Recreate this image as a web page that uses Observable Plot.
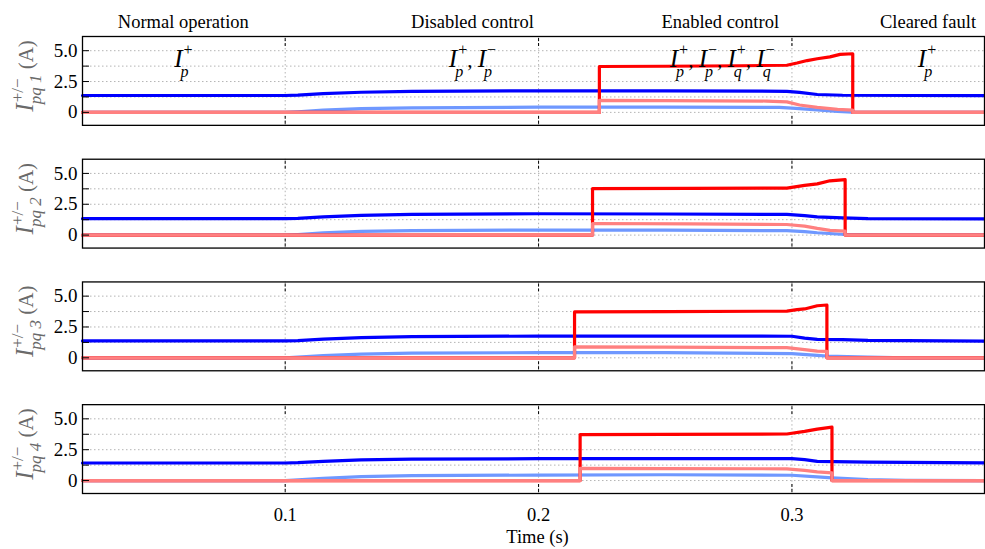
<!DOCTYPE html>
<html><head><meta charset="utf-8">
<script src="https://cdn.jsdelivr.net/npm/d3@7"></script>
<script src="https://cdn.jsdelivr.net/npm/@observablehq/plot@0.6"></script>
<style>body{margin:0;background:#fff}#chart{width:985px;height:549px}</style>
</head><body><div id="chart"></div>
<script>
// ---------- data ----------
const panels = [1, 2, 3, 4];
const xTicks = [0.1, 0.2, 0.3];
const yTickLabels = [0, 2.5, 5];
const yGrid = [0, 1.25, 2.5, 3.75, 5];
const phaseLabels = ["Normal operation", "Disabled control", "Enabled control", "Cleared fault"];
const phaseCenters = [0.0598, 0.1739, 0.2717, 0.3537];
const annotations = ["I^+_p", "I^+_p, I^−_p", "I^+_p, I^−_p, I^+_q, I^−_q", "I^+_p"];
const annotationX = [0.0598, 0.1739, 0.2725, 0.3533];
const annotationY = [3.65, 3.65, 3.65, 3.65];
const yLabels = ["I^+/−_pq 1", "I^+/−_pq 2", "I^+/−_pq 3", "I^+/−_pq 4"];

// I_p^+ (dark blue)
const blue1 = [[0.02,1.37],[0.10,1.37],[0.105,1.40],[0.115,1.52],[0.13,1.63],[0.15,1.70],[0.20,1.75],[0.25,1.74],[0.298,1.71],[0.303,1.62],[0.31,1.45],[0.32,1.39],[0.376,1.36]];
const blue2 = [[0.02,1.33],[0.10,1.33],[0.105,1.36],[0.115,1.48],[0.13,1.60],[0.15,1.68],[0.20,1.73],[0.25,1.71],[0.298,1.68],[0.305,1.58],[0.31,1.48],[0.32,1.40],[0.33,1.34],[0.376,1.31]];
const blue3 = [[0.02,1.37],[0.10,1.37],[0.105,1.40],[0.115,1.52],[0.13,1.64],[0.15,1.72],[0.20,1.76],[0.25,1.76],[0.30,1.75],[0.305,1.60],[0.31,1.50],[0.32,1.48],[0.33,1.41],[0.376,1.35]];
const blue4 = [[0.02,1.42],[0.10,1.42],[0.105,1.45],[0.115,1.56],[0.13,1.67],[0.15,1.74],[0.20,1.77],[0.25,1.77],[0.30,1.77],[0.305,1.69],[0.31,1.56],[0.33,1.50],[0.376,1.43]];
// I_p^- (light blue)
const light1 = [[0.02,0],[0.10,0],[0.105,0.05],[0.115,0.18],[0.13,0.30],[0.15,0.37],[0.20,0.42],[0.25,0.43],[0.295,0.40],[0.30,0.35],[0.31,0.20],[0.318,0.08],[0.324,0.02],[0.34,0],[0.376,0]];
const light2 = [[0.02,0],[0.10,0],[0.105,0.05],[0.115,0.18],[0.13,0.30],[0.15,0.37],[0.20,0.41],[0.25,0.41],[0.298,0.36],[0.305,0.28],[0.31,0.19],[0.321,0.05],[0.335,0],[0.376,0]];
const light3 = [[0.02,0],[0.10,0],[0.105,0.05],[0.115,0.18],[0.13,0.30],[0.15,0.38],[0.20,0.42],[0.25,0.42],[0.30,0.34],[0.31,0.20],[0.3138,0.15],[0.33,0.05],[0.345,0],[0.376,0]];
const light4 = [[0.02,0],[0.10,0],[0.105,0.05],[0.115,0.18],[0.13,0.32],[0.15,0.40],[0.20,0.44],[0.25,0.47],[0.30,0.43],[0.31,0.30],[0.3158,0.22],[0.33,0.08],[0.345,0.02],[0.376,0]];
// I_q^+ (red)
const red1 = [[0.02,0],[0.224,0],[0.224,3.72],[0.25,3.74],[0.28,3.78],[0.298,3.82],[0.302,4.0],[0.306,4.2],[0.31,4.35],[0.315,4.5],[0.319,4.7],[0.324,4.75],[0.324,0],[0.376,0]];
const red2 = [[0.02,0],[0.2213,0],[0.2213,3.76],[0.26,3.78],[0.298,3.81],[0.305,4.03],[0.31,4.15],[0.315,4.4],[0.321,4.5],[0.321,0],[0.376,0]];
const red3 = [[0.02,0],[0.2142,0],[0.2142,3.72],[0.25,3.75],[0.298,3.78],[0.302,3.9],[0.305,3.96],[0.31,4.22],[0.3138,4.28],[0.3138,0],[0.376,0]];
const red4 = [[0.02,0],[0.2164,0],[0.2164,3.72],[0.25,3.74],[0.298,3.77],[0.305,3.98],[0.31,4.17],[0.3158,4.33],[0.3158,0],[0.376,0]];
// I_q^- (pink)
const pink1 = [[0.02,0],[0.224,0],[0.224,0.97],[0.25,0.95],[0.29,0.92],[0.298,0.85],[0.303,0.6],[0.31,0.4],[0.318,0.25],[0.324,0.18],[0.324,0],[0.376,0]];
const pink2 = [[0.02,0],[0.2213,0],[0.2213,0.94],[0.26,0.91],[0.298,0.86],[0.305,0.73],[0.31,0.54],[0.315,0.38],[0.321,0.32],[0.321,0],[0.376,0]];
const pink3 = [[0.02,0],[0.2142,0],[0.2142,0.88],[0.25,0.86],[0.298,0.82],[0.305,0.66],[0.31,0.55],[0.3138,0.52],[0.3138,0],[0.376,0]];
const pink4 = [[0.02,0],[0.2164,0],[0.2164,0.98],[0.25,0.97],[0.298,0.95],[0.305,0.83],[0.31,0.7],[0.3158,0.62],[0.3158,0],[0.376,0]];

// ---------- build rows ----------
const rows = (sets) => sets.flatMap((pts, i) => pts.map(([t, v]) => ({t, v, panel: panels[i]})));
const blueData = rows([blue1, blue2, blue3, blue4]);
const lightData = rows([light1, light2, light3, light4]);
const redData = rows([red1, red2, red3, red4]);
const pinkData = rows([pink1, pink2, pink3, pink4]);

const grid = {stroke: "#b4b4b4", strokeOpacity: 1, strokeDasharray: "1.5,2.5", strokeWidth: 1};
const lineOpt = {x: "t", y: "v", fy: "panel", strokeWidth: 3.2, strokeLinejoin: "round"};

const chart = Plot.plot({
  width: 985, height: 549,
  marginLeft: 82, marginRight: 1, marginTop: 36, marginBottom: 56,
  style: {fontFamily: "'Liberation Serif','Times New Roman',serif", fontSize: "18px", background: "#fff", color: "#000"},
  x: {domain: [0.02, 0.376], axis: null},
  y: {domain: [-1.05, 6.15], axis: null},
  fy: {domain: panels, axis: null, paddingInner: 0.276, paddingOuter: 0, round: false},
  marks: [
    Plot.gridX(xTicks, grid),
    Plot.gridY(yGrid, grid),
    Plot.line(lightData, {...lineOpt, stroke: "#6f98ff"}),
    Plot.line(blueData, {...lineOpt, stroke: "#0000ff"}),
    Plot.line(redData, {...lineOpt, stroke: "#ff0000"}),
    Plot.line(pinkData, {...lineOpt, stroke: "#ff8080"}),
    Plot.axisX(xTicks, {anchor: "bottom", facetAnchor: null, tickSize: 9, dy: -9, tickFormat: () => "", label: null, stroke: "#000", strokeDasharray: "3,2"}),
    Plot.axisX(xTicks, {anchor: "top", facetAnchor: null, tickSize: 9, dy: 9, tickFormat: () => "", label: null, stroke: "#000", strokeDasharray: "3,2"}),
    Plot.axisY(yGrid, {anchor: "left", tickSize: 7, dx: 7, tickFormat: () => "", label: null, stroke: "#000"}),
    Plot.axisY(yTickLabels, {anchor: "left", tickSize: 0, tickPadding: 5, label: null, fontSize: 19, tickFormat: d => d === 0 ? "0" : d.toFixed(1)}),
    Plot.axisX(xTicks, {anchor: "bottom", tickSize: 0, tickPadding: 14, label: null, fontSize: 18.5, tickFormat: d => d.toFixed(1)}),
    Plot.frame({stroke: "#000", strokeWidth: 1.3}),
    Plot.text(phaseLabels, {x: (d, i) => phaseCenters[i], fy: () => 1, frameAnchor: "top", dy: -14, fontSize: 18.5, lineAnchor: "middle"}),
    Plot.text(annotations, {x: (d, i) => annotationX[i], y: (d, i) => annotationY[i], fy: () => 1, lineAnchor: "bottom"}),
    Plot.text(yLabels, {fy: (d, i) => panels[i], frameAnchor: "left", dx: -50, dy: -5, rotate: -90, textAnchor: "middle", lineAnchor: "bottom", fill: "#6a6a6a"}),
    Plot.text(["Time (s)"], {fy: () => 4, frameAnchor: "bottom", dx: 4, dy: 44, fontSize: 18.5, lineAnchor: "middle"})
  ]
});
document.getElementById("chart").appendChild(chart);

// ---------- rich text (sub/superscripts) ----------
const NS = "http://www.w3.org/2000/svg";
function renderRich(el, items, o) {
  el.textContent = "";
  el.style.whiteSpace = "pre";
  let pend = null;
  const add = (txt, size, italic, dx, dy) => {
    const t = document.createElementNS(NS, "tspan");
    t.textContent = txt;
    t.setAttribute("font-size", size);
    if (italic) t.setAttribute("font-style", "italic");
    let ddx = dx || 0, ddy = dy || 0;
    if (pend) { ddx += pend.dx; ddy += pend.dy; pend = null; }
    if (ddx) t.setAttribute("dx", ddx);
    if (ddy) t.setAttribute("dy", ddy);
    el.appendChild(t);
    return t;
  };
  for (const it of items) {
    if (it.plain != null) { add(it.plain, o.plain, false); continue; }
    add(it.main, o.main, true);
    const sup = add(it.sup, o.small, false, o.supDx, -o.sup);
    const w = sup.getComputedTextLength();
    const sub = add(it.sub, o.small, true, -w - o.supDx + o.subDx, o.sup + o.sub);
    const w2 = sub.getComputedTextLength();
    pend = {dx: Math.max(0, o.supDx + w - o.subDx - w2), dy: -o.sub};
  }
}
const parseTerm = s => { const m = /^(.)\^(.+?)_(.+)$/.exec(s); return {main: m[1], sup: m[2], sub: m[3]}; };

Array.from(chart.querySelectorAll("text")).forEach(el => {
  const s = el.textContent;
  if (!/\^/.test(s) || !/_/.test(s)) return;
  if (/pq/.test(s)) {
    renderRich(el, [parseTerm(s), {plain: " (A)"}], {main: 25, small: 17, plain: 21, sup: 10, sub: 8, supDx: 1, subDx: -1});
  } else {
    const items = [];
    s.split(", ").map(parseTerm).forEach((t, i) => { if (i) items.push({plain: ", "}); items.push(t); });
    renderRich(el, items, {main: 25, small: 16, plain: 21, sup: 12, sub: 10, supDx: 1, subDx: -2});
  }
});
</script>
</body></html>
